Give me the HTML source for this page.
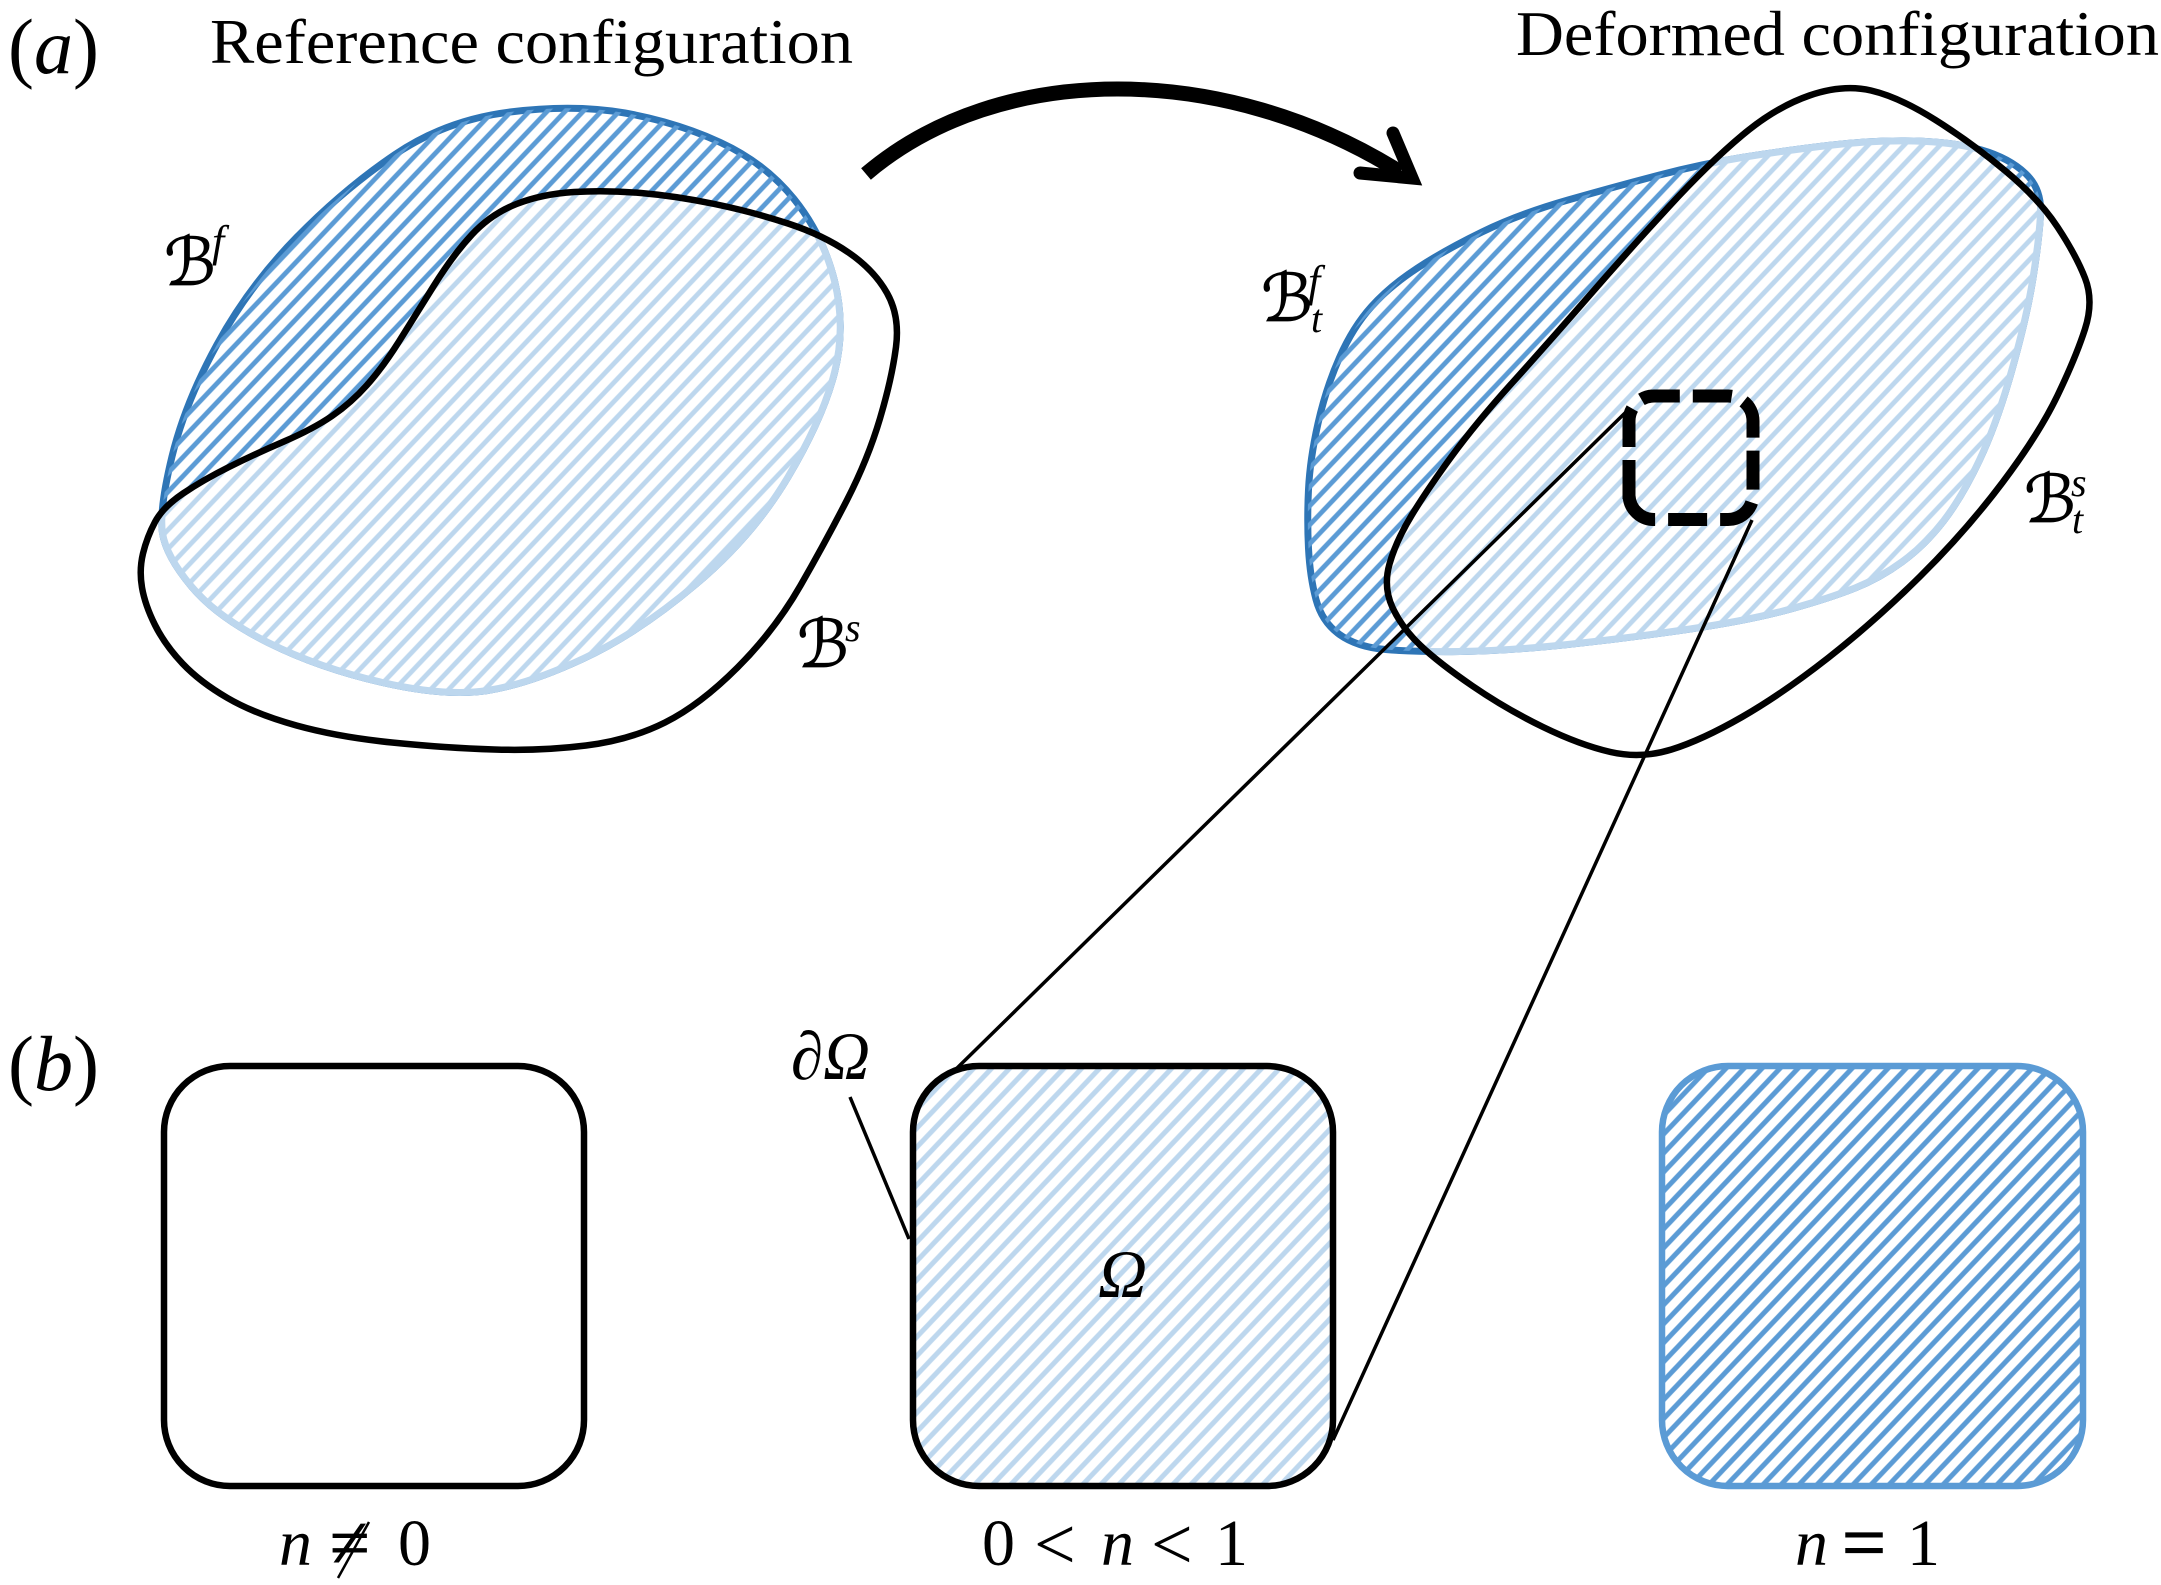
<!DOCTYPE html>
<html><head><meta charset="utf-8"><style>
html,body{margin:0;padding:0;background:#fff}
svg{display:block}
text{font-family:"Liberation Serif","DejaVu Serif",serif;fill:#000}
.i{font-style:italic}
.b{font-family:"DejaVu Sans","Liberation Serif",serif;font-style:italic;stroke:#000;stroke-width:.8}
</style></head><body>
<svg xmlns="http://www.w3.org/2000/svg" width="2161" height="1585" viewBox="0 0 2161 1585">
<defs>
<pattern id="hD1" patternUnits="userSpaceOnUse" width="100" height="13.06" patternTransform="translate(160.3,528.5) rotate(-46.5)"><rect y="4.13" width="100" height="4.8" fill="#5b9bd5"/></pattern>
<pattern id="hL1" patternUnits="userSpaceOnUse" width="100" height="13.06" patternTransform="translate(160.3,528.5) rotate(-46.5)"><rect y="4.13" width="100" height="4.8" fill="#bdd7ee"/></pattern>
<pattern id="hD3" patternUnits="userSpaceOnUse" width="100" height="13.06" patternTransform="translate(1335.3,412.5) rotate(-46.5)"><rect y="4.13" width="100" height="4.8" fill="#5b9bd5"/></pattern>
<pattern id="hL3" patternUnits="userSpaceOnUse" width="100" height="13.06" patternTransform="translate(1335.3,412.5) rotate(-46.5)"><rect y="4.13" width="100" height="4.8" fill="#bdd7ee"/></pattern>
<pattern id="hD2" patternUnits="userSpaceOnUse" width="100" height="13.06" patternTransform="translate(1795.3,1213.5) rotate(-46.5)"><rect y="4.03" width="100" height="5" fill="#5b9bd5"/></pattern>
<pattern id="hL2" patternUnits="userSpaceOnUse" width="100" height="13.06" patternTransform="translate(985.3,1065.5) rotate(-46.5)"><rect y="4.03" width="100" height="5" fill="#bdd7ee"/></pattern>
<path id="fL" d="M172 456.5 Q185 403 217 344.5 Q249 286 296.5 237.5 Q344 189 395 154.5 Q446 120 510 112 Q574 104 625 113 Q676 122 720.5 142.5 Q765 163 794 199 Q823 235 834.5 281 Q846 327 834.5 372.5 Q823 418 788 477 Q753 536 695.5 584.5 Q638 633 583.5 658.5 Q529 684 487.5 690.5 Q446 697 382.5 682.5 Q319 668 268 642.5 Q217 617 191.5 586.5 Q166 556 162.5 533 Q159 510 172 456.5 Z"/>
<path id="sL" d="M229 467 Q255 454 284 441.5 Q313 429 332 416 Q351 403 367 385 Q383 367 399 341.5 Q415 316 434 285.5 Q453 255 472 234.5 Q491 214 516.5 204 Q542 194 574 192 Q606 190 641 193 Q676 196 714.5 204 Q753 212 788 223.5 Q823 235 848.5 252.5 Q874 270 887 293 Q900 316 896 347 Q892 378 880 418.5 Q868 459 847 500 Q826 541 800.5 585.5 Q775 630 737.5 667.5 Q700 705 665 722.5 Q630 740 586 745.5 Q542 751 494 749.5 Q446 748 392 742.5 Q338 737 296.5 725.5 Q255 714 227.5 698 Q200 682 182.5 663.5 Q165 645 155 625 Q145 605 142 587.5 Q139 570 143 553.5 Q147 537 155 522 Q163 507 183 493.5 Q203 480 229 467 Z"/>
<path id="fR" d="M1308.5 489.5 Q1310 459 1318 423.5 Q1326 388 1339.5 357.5 Q1353 327 1371.5 306.5 Q1390 286 1417.5 268 Q1445 250 1482 232 Q1519 214 1568 200 Q1617 186 1659.5 175 Q1702 164 1742 157.5 Q1782 151 1828 145.5 Q1874 140 1914 141 Q1954 142 1981.5 150 Q2009 158 2025.5 173.5 Q2042 189 2040.5 214.5 Q2039 240 2033 278 Q2027 316 2012 369.5 Q1997 423 1979.5 460 Q1962 497 1943.5 521 Q1925 545 1902.5 561.5 Q1880 578 1855 588 Q1830 598 1790.5 609 Q1751 620 1690 629 Q1629 638 1567.5 644.5 Q1506 651 1460 651.5 Q1414 652 1385.5 649.5 Q1357 647 1339.5 634.5 Q1322 622 1316 599.5 Q1310 577 1308.5 548.5 Q1307 520 1308.5 489.5 Z"/>
<path id="sR" d="M1871 90.5 Q1899 97 1935.5 120 Q1972 143 2005.5 171 Q2039 199 2057.5 227 Q2076 255 2085 278 Q2094 301 2085 329 Q2076 357 2057.5 395.5 Q2039 434 2002.5 482.5 Q1966 531 1920 576.5 Q1874 622 1828 658 Q1782 694 1742 717 Q1702 740 1671.5 749.5 Q1641 759 1610.5 752 Q1580 745 1543 727 Q1506 709 1472.5 686 Q1439 663 1420.5 645.5 Q1402 628 1392.5 607.5 Q1383 587 1389.5 564 Q1396 541 1411.5 515.5 Q1427 490 1451.5 456.5 Q1476 423 1512.5 382.5 Q1549 342 1589 296 Q1629 250 1669 206.5 Q1709 163 1742.5 135 Q1776 107 1809.5 95.5 Q1843 84 1871 90.5 Z"/>
<clipPath id="cL"><use href="#sL"/></clipPath>
<clipPath id="cR"><use href="#sR"/></clipPath>
</defs>
<rect width="2161" height="1585" fill="#fff"/>

<!-- left blob -->
<use href="#fL" fill="#fff" stroke="#2e75b6" stroke-width="7"/>
<use href="#fL" fill="url(#hD1)"/>
<g clip-path="url(#cL)">
<use href="#fL" fill="#fff" stroke="#bdd7ee" stroke-width="7"/>
<use href="#fL" fill="url(#hL1)"/>
</g>
<use href="#sL" fill="none" stroke="#000" stroke-width="6.5"/>

<!-- right blob -->
<use href="#fR" fill="#fff" stroke="#2e75b6" stroke-width="7"/>
<use href="#fR" fill="url(#hD3)"/>
<g clip-path="url(#cR)">
<use href="#fR" fill="#fff" stroke="#bdd7ee" stroke-width="7"/>
<use href="#fR" fill="url(#hL3)"/>
</g>
<use href="#sR" fill="none" stroke="#000" stroke-width="6.5"/>

<!-- arrow -->
<path d="M866 174 C1000 60 1225 62 1400 172" fill="none" stroke="#000" stroke-width="15"/>
<path d="M1393 133 L1412 178 L1360 173" fill="none" stroke="#000" stroke-width="13" stroke-linecap="round" stroke-miterlimit="10"/>

<!-- zoom box -->
<path d="M1629 499 V421 A25 25 0 0 1 1654 396 H1728 A25 25 0 0 1 1753 421 V494.5 A25 25 0 0 1 1728 519.5 H1654 A25 25 0 0 1 1629 494.5 Z" fill="none" stroke="#000" stroke-width="13" stroke-dasharray="39 13"/>
<line x1="1626" y1="412" x2="952" y2="1073" stroke="#000" stroke-width="3.5"/>
<line x1="1752" y1="520" x2="1333" y2="1440" stroke="#000" stroke-width="3.5"/>
<line x1="850" y1="1097" x2="909" y2="1239" stroke="#000" stroke-width="3.5"/>

<!-- squares -->
<rect x="164" y="1066" width="420" height="420" rx="66" ry="66" fill="#fff" stroke="#000" stroke-width="6.5"/>
<rect x="913" y="1066" width="420" height="420" rx="66" ry="66" fill="url(#hL2)" stroke="#000" stroke-width="6.5"/>
<rect x="1662" y="1066" width="421" height="420" rx="66" ry="66" fill="url(#hD2)" stroke="#5b9bd5" stroke-width="6.5"/>

<!-- titles -->
<text x="210" y="63" font-size="63" textLength="643" lengthAdjust="spacingAndGlyphs">Reference configuration</text>
<text x="1516" y="55" font-size="63" textLength="643" lengthAdjust="spacingAndGlyphs">Deformed configuration</text>
<text x="8" y="73" font-size="78" textLength="91" lengthAdjust="spacingAndGlyphs">(<tspan class="i">a</tspan>)</text>
<text x="8" y="1090" font-size="78" textLength="91" lengthAdjust="spacingAndGlyphs">(<tspan class="i">b</tspan>)</text>

<!-- labels -->
<text class="b" x="164" y="285" font-size="66">ℬ</text>
<text class="i" x="212" y="256" font-size="44">f</text>
<text class="b" x="797" y="667" font-size="66">ℬ</text>
<text class="i" x="845" y="641" font-size="40">s</text>
<text class="b" x="1261" y="321" font-size="66">ℬ</text>
<text class="i" x="1308" y="296" font-size="44">f</text>
<text class="i" x="1311" y="332" font-size="40">t</text>
<text class="b" x="2024" y="522" font-size="66">ℬ</text>
<text class="i" x="2071" y="496" font-size="40">s</text>
<text class="i" x="2072" y="533" font-size="40">t</text>

<text class="i" x="791" y="1079" font-size="68" textLength="79" lengthAdjust="spacingAndGlyphs">∂Ω</text>
<text class="i" x="1098" y="1297" font-size="68">Ω</text>

<text class="i" x="279" y="1565" font-size="66">n</text>
<text x="330" y="1567" font-size="72" stroke="#000" stroke-width=".8">≠</text>
<line x1="369" y1="1522" x2="338" y2="1578" stroke="#000" stroke-width="2.5"/>
<text x="398" y="1565" font-size="66">0</text>

<text x="982" y="1565" font-size="66">0</text>
<text x="1034" y="1569" font-size="74">&lt;</text>
<text class="i" x="1101" y="1565" font-size="66">n</text>
<text x="1151" y="1569" font-size="74">&lt;</text>
<text x="1215" y="1565" font-size="66">1</text>

<text class="i" x="1795" y="1565" font-size="66">n</text>
<text x="1842" y="1569" font-size="78" stroke="#000" stroke-width="1.2">=</text>
<text x="1907" y="1565" font-size="66">1</text>
</svg>
</body></html>
